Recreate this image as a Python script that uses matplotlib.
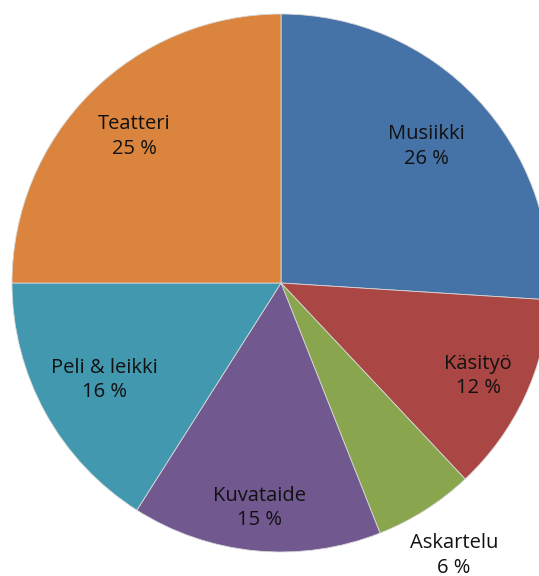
import matplotlib.pyplot as plt
import numpy as np

categories = ["Musiikki", "Käsityö", "Askartelu", "Kuvataide", "Peli & leikki", "Teatteri"]
shares = [26, 12, 6, 15, 16, 25]
colors = ["#4572A7", "#AA4643", "#89A54E", "#71588F", "#4198AF", "#DB843D"]
label_dist = [0.74, 0.81, 1.2, 0.84, 0.75, 0.77]

W, H = 539, 576
CX, CY, R = 281, H - 283, 269

fig = plt.figure(figsize=(W / 100, H / 100), dpi=100)
ax = fig.add_axes([0, 0, 1, 1])
wedges, _ = ax.pie(shares, colors=colors, startangle=90, counterclock=False,
                   center=(CX, CY), radius=R,
                   wedgeprops=dict(edgecolor="#d8d8d8", linewidth=0.6))
ax.set_xlim(0, W)
ax.set_ylim(0, H)
ax.set_aspect("equal")
ax.axis("off")

for w, name, pct, d in zip(wedges, categories, shares, label_dist):
    ang = np.deg2rad((w.theta1 + w.theta2) / 2)
    x = CX + d * R * np.cos(ang)
    y = CY + d * R * np.sin(ang)
    ax.text(x, y, f"{name}\n{pct} %", ha="center", va="center",
            fontsize=14.5, family="Open Sans", color="#111111", linespacing=1.3)

fig.savefig("out.png", dpi=100)
